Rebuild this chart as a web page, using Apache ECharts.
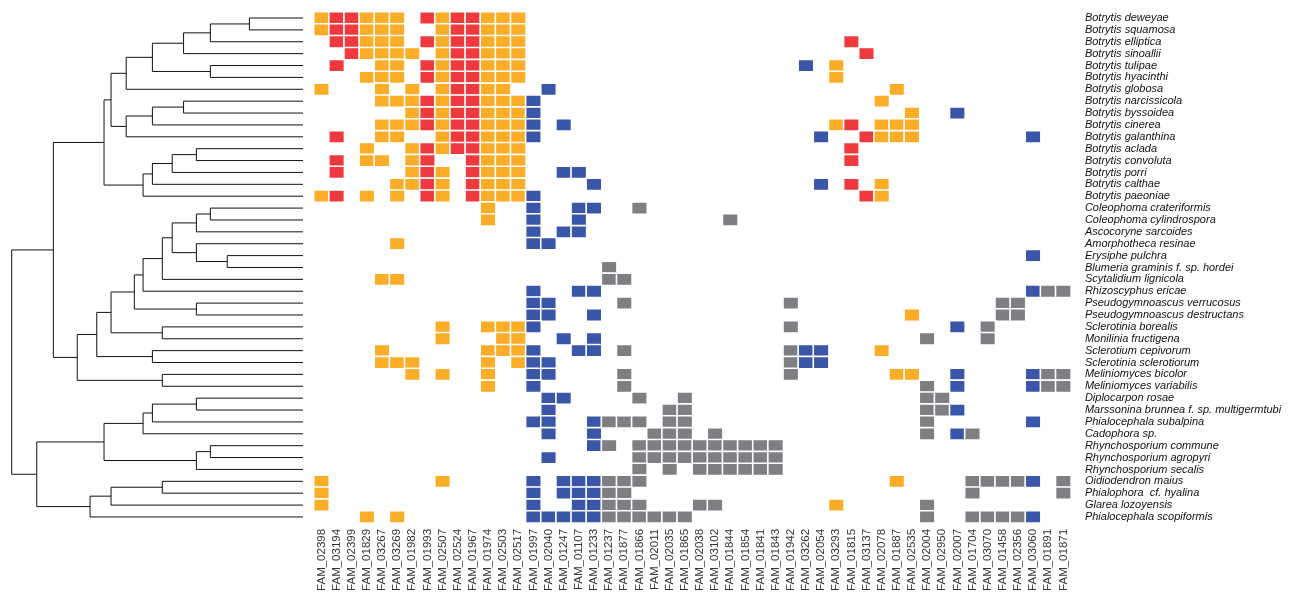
<!DOCTYPE html>
<html><head><meta charset="utf-8">
<script src="https://cdn.jsdelivr.net/npm/echarts@6/dist/echarts.min.js"></script>
<style>html,body{margin:0;padding:0;background:#fff}#c{width:1291px;height:601px}</style>
</head><body><div id="c"></div>
<script>
// Row categories (species), top to bottom
const species = [
  'Botrytis deweyae','Botrytis squamosa','Botrytis elliptica','Botrytis sinoallii','Botrytis tulipae',
  'Botrytis hyacinthi','Botrytis globosa','Botrytis narcissicola','Botrytis byssoidea','Botrytis cinerea',
  'Botrytis galanthina','Botrytis aclada','Botrytis convoluta','Botrytis porri','Botrytis calthae',
  'Botrytis paeoniae','Coleophoma crateriformis','Coleophoma cylindrospora','Ascocoryne sarcoides','Amorphotheca resinae',
  'Erysiphe pulchra','Blumeria graminis f. sp. hordei','Scytalidium lignicola','Rhizoscyphus ericae','Pseudogymnoascus verrucosus',
  'Pseudogymnoascus destructans','Sclerotinia borealis','Monilinia fructigena','Sclerotium cepivorum','Sclerotinia sclerotiorum',
  'Meliniomyces bicolor','Meliniomyces variabilis','Diplocarpon rosae','Marssonina brunnea f. sp. multigermtubi','Phialocephala subalpina',
  'Cadophora sp.','Rhynchosporium commune','Rhynchosporium agropyri','Rhynchosporium secalis','Oidiodendron maius',
  'Phialophora  cf. hyalina','Glarea lozoyensis','Phialocephala scopiformis'
];
// Column categories (gene families), left to right
const families = [
  'FAM_02398','FAM_03194','FAM_02399','FAM_01829','FAM_03267','FAM_03269','FAM_01982','FAM_01993','FAM_02507','FAM_02524',
  'FAM_01967','FAM_01974','FAM_02503','FAM_02517','FAM_01997','FAM_02040','FAM_01247','FAM_01107','FAM_01233','FAM_01237',
  'FAM_01877','FAM_01866','FAM_02011','FAM_02035','FAM_01865','FAM_02038','FAM_03102','FAM_01844','FAM_01854','FAM_01841',
  'FAM_01843','FAM_01942','FAM_03262','FAM_02054','FAM_03293','FAM_01815','FAM_03137','FAM_02078','FAM_01887','FAM_02535',
  'FAM_02004','FAM_02950','FAM_02007','FAM_01704','FAM_03070','FAM_01458','FAM_02356','FAM_03060','FAM_01891','FAM_01871'
];
// Cell states per row (groups of 10 columns): O, R, B, G, '.' = absent
const presence = [
  'ORROOO.ROR ROOO...... .......... .......... ..........',
  'ORROOO..OR ROOO...... .......... .......... ..........',
  '.RROOO.ROR ROOO...... .......... .....R.... ..........',
  '..ROOOO.OR ROOO...... .......... ......R... ..........',
  '.R..OO.ROR ROOO...... .......... ..B.O..... ..........',
  '...OOO.ROR ROOO...... .......... ....O..... ..........',
  'O...O.O.OR ROO..B.... .......... ........O. ..........',
  '....OOOROR ROOOB..... .......... .......O.. ..........',
  '......OROR ROOOB..... .......... .........O ..B.......',
  '....OOOROR ROOOB.B... .......... ....OR.OOO ..........',
  '.R..OO..OR ROOOB..... .......... ...B..ROOO .......B..',
  '...O..OROR ROOO...... .......... .....R.... ..........',
  '.R.OO.OR.. ROOO...... .......... .....R.... ..........',
  '.R....ORO. ROOO..BB.. .......... .......... ..........',
  '.....OORO. ROOO....B. .......... ...B.R.O.. ..........',
  'OR.O.O.RO. ROOOB..... .......... ......RO.. ..........',
  '.......... .O..B..BB. .G........ .......... ..........',
  '.......... .O..B..B.. .......G.. .......... ..........',
  '.......... ....B.BB.. .......... .......... ..........',
  '.....O.... ....BB.... .......... .......... ..........',
  '.......... .......... .......... .......... .......B..',
  '.......... .........G .......... .......... ..........',
  '....OO.... .........G G......... .......... ..........',
  '.......... ....B..BB. .......... .......... .......BGG',
  '.......... ....BB.... G......... .G........ .....GG...',
  '.......... ....BB..B. .......... .........O .....GG...',
  '........O. .OOOB..... .......... .G........ ..B.G.....',
  '........O. ..OO..B.B. .......... .......... G...G.....',
  '....O..... .OOOB..BB. G......... .GBB...O.. ..........',
  '....OOO... .O.OBB.... .......... .GBB...... ..........',
  '......O.O. .O..BB.... G......... .G......OO ..B....BGG',
  '.......... .O..B..... G......... .......... G.B....BGG',
  '.......... .....BB... .G..G..... .......... GG........',
  '.......... .....B.... ...GG..... .......... GGB.......',
  '.......... ....BB..BG GG.GG..... .......... G......B..',
  '.......... .....B..B. ..GGG.G... .......... G.BG......',
  '.......... ........BG .GGGGGGGGG G......... ..........',
  '.......... .....B.... .GGGGGGGGG G......... ..........',
  '.......... .......... .G.G.GGGGG G......... ..........',
  'O.......O. ....B.BBBG GG........ ........O. ...GGGGB.G',
  'O......... ....B.BBBG G......... .......... ...G.....G',
  'O......... ....B..BBG GG...GG... ....O..... G.........',
  '...O.O.... ....BBBBBG GGGGG..... .......... G..GGGGB..'
];
const stateCodes = { O: 1, R: 2, B: 3, G: 4 };
const stateColours = { 1: '#FBAD28', 2: '#EE3A3E', 3: '#3956A8', 4: '#7E7E83' };
// Dendrogram: [mergeHeight, left, right]; leaves are row indices
const tree =
[1.0,
  [0.857,
    [0.683,
      [0.659,
        [0.607, [0.517, [0.41, [0.318, [0.184, 0, 1], 2], 3], [0.318, 4, 5]], 6],
        [0.607, [0.517, [0.41, 7, 8], 9], 10]],
      [0.549, [0.517, [0.449, [0.366, 11, 12], 13], 14], 15]],
    [0.775,
      [0.708,
        [0.659,
          [0.579,
            [0.549, [0.483, [0.449, [0.366, [0.318, 16, 17], 18], [0.366, 19, [0.26, 20, 21]]], 22], 23],
            [0.366, 24, 25]],
          [0.483, 26, 27]],
        [0.517, 28, 29]],
      [0.483, 30, 31]]],
  [0.914,
    [0.683,
      [0.549, [0.517, [0.366, 32, 33], 34], 35],
      [0.366, [0.318, 36, 37], 38]],
    [0.731, [0.659, [0.483, 39, 40], 41], 42]]];

// ---- build data ----
const cells = [];
presence.forEach((row, r) => {
  row.replace(/ /g, '').split('').forEach((ch, c) => {
    if (stateCodes[ch]) cells.push([c, r, stateCodes[ch]]);
  });
});
const segs = [];
function walk(node) {
  if (typeof node === 'number') return { y: node, h: 0 };
  const a = walk(node[1]), b = walk(node[2]), h = node[0];
  segs.push({ coords: [[a.h, a.y], [h, a.y], [h, b.y], [b.h, b.y]] });
  return { y: (a.y + b.y) / 2, h: h };
}
walk(tree);

const chart = echarts.init(document.getElementById('c'));
const gridTop = 12.06, gridBottom = 78.1;
chart.setOption({
  animation: false,
  backgroundColor: '#fff',
  grid: [
    { left: 313.9, right: 220.1, top: gridTop, bottom: gridBottom },
    { left: 11.7, right: 988, top: gridTop, bottom: gridBottom }
  ],
  xAxis: [
    { type: 'category', gridIndex: 0, data: families, axisLine: { show: false }, axisTick: { show: false },
      splitLine: { show: false },
      axisLabel: { rotate: 90, interval: 0, fontSize: 11.5, color: '#333', margin: 6, fontFamily: 'Liberation Sans, Arial, sans-serif' } },
    { type: 'value', gridIndex: 1, min: 0, max: 1, inverse: true, show: false }
  ],
  yAxis: [
    { type: 'category', gridIndex: 0, data: species, inverse: true, position: 'right',
      axisLine: { show: false }, axisTick: { show: false }, splitLine: { show: false },
      axisLabel: { interval: 0, fontSize: 11, fontStyle: 'italic', color: '#111', margin: 14, fontFamily: 'Liberation Sans, Arial, sans-serif' } },
    { type: 'value', gridIndex: 1, min: -0.5, max: 42.5, inverse: true, show: false }
  ],
  visualMap: {
    type: 'piecewise', show: false, dimension: 2, seriesIndex: 0,
    pieces: Object.keys(stateColours).map(k => ({ value: +k, color: stateColours[k] }))
  },
  series: [
    { type: 'heatmap', xAxisIndex: 0, yAxisIndex: 0, data: cells,
      itemStyle: { borderColor: '#fff', borderWidth: 1.6 }, emphasis: { disabled: true } },
    { type: 'lines', coordinateSystem: 'cartesian2d', xAxisIndex: 1, yAxisIndex: 1, polyline: true,
      silent: true, lineStyle: { color: '#111', width: 1, opacity: 1 }, data: segs }
  ]
});
</script></body></html>
